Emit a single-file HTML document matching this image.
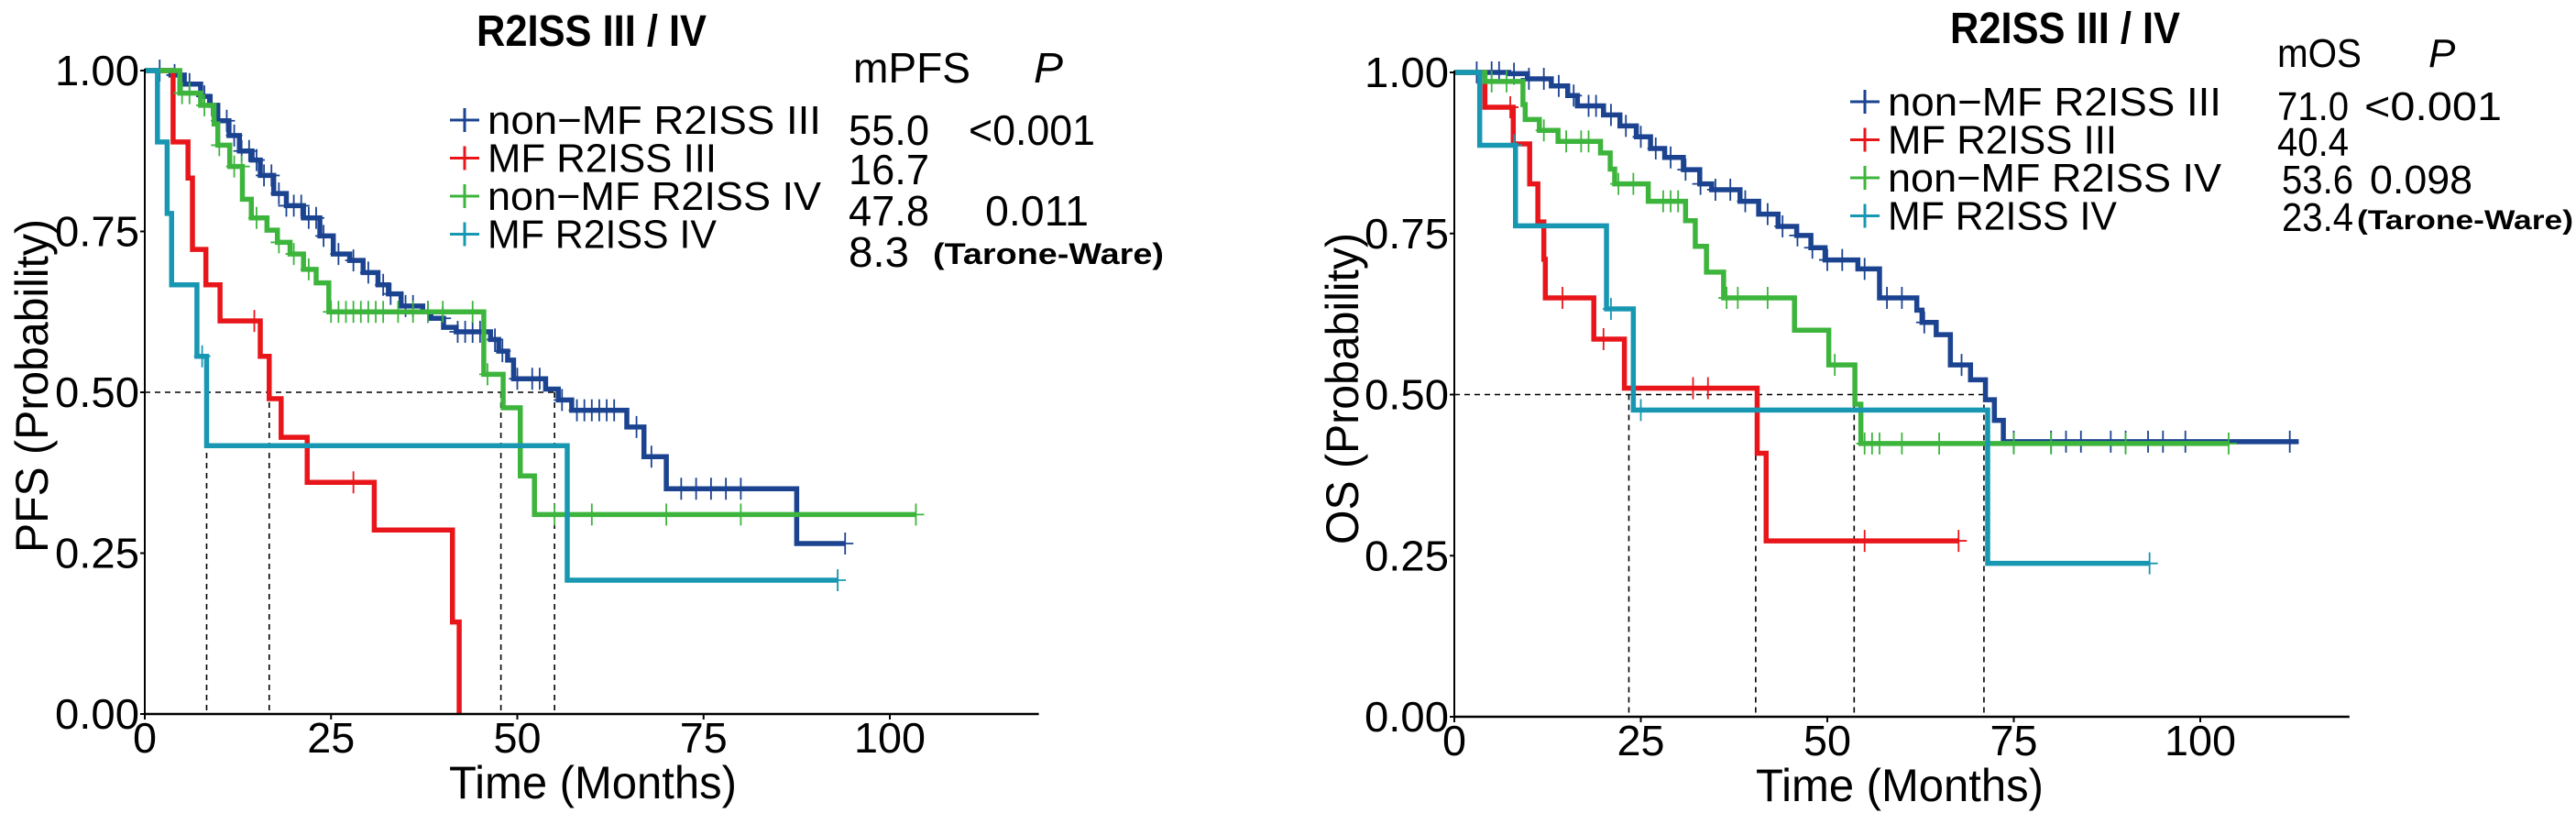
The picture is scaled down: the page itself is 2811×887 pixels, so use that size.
<!DOCTYPE html>
<html><head><meta charset="utf-8"><style>
html,body{margin:0;padding:0;background:#fff;}
svg{display:block;font-family:"Liberation Sans",Arial,sans-serif;}
</style></head><body>
<svg id="fig" width="2811" height="887" viewBox="0 0 2811 887"></svg>
<script>
// ---------- data ----------
const xTicks = [0,25,50,75,100];
const yTicks = [0,0.25,0.5,0.75,1];
const yTickLabels = ["0.00","0.25","0.50","0.75","1.00"];
const seriesNames = ["non\u2212MF R2ISS III","MF R2ISS III","non\u2212MF R2ISS IV","MF R2ISS IV"];
const seriesKeys = ["non-mf-r2iss-iii","mf-r2iss-iii","non-mf-r2iss-iv","mf-r2iss-iv"];
const colors = ["#1b4390","#e8161b","#3db53c","#1897b2"];

// PFS
const pfsBlueT = [0,3.5,5.3,7.5,8.7,9.8,11.3,12.7,14.4,15.5,17.3,19,21.3,23.5,25.3,27.5,29.3,31.3,32.7,34.4,37.3,38.4,40.1,41.8,46.4,47.5,48.7,49.5,53.8,55.5,57.3,64.7,67,70,87.5];
const pfsBlueS = [1,0.993,0.979,0.96,0.946,0.922,0.899,0.875,0.861,0.837,0.809,0.79,0.771,0.743,0.715,0.705,0.686,0.667,0.653,0.634,0.625,0.615,0.601,0.594,0.582,0.564,0.55,0.521,0.505,0.488,0.472,0.446,0.40,0.35,0.265];
const pfsBlueEnd = 94;
const pfsBlueC = [2,4,6,8,9,10,11,12,13,14,15,16,17,18,19,20,21,22,23,24,26,28,30,32,33,35,36,38,40,42,43,44,45,47,48,50,52,53,56,58,59,60,61,62,63,66,68,72,74,76,78,80,94];
const pfsRedT = [0,3.8,5.8,6.4,8.2,10.1,15.5,16.7,18.3,21.8,30.8,41.3,42.2];
const pfsRedS = [1,0.889,0.833,0.722,0.667,0.611,0.556,0.49,0.43,0.36,0.286,0.143,0];
const pfsRedEnd = 42.2;
const pfsRedC = [14.7,28];
const pfsGreenT = [0,4.7,7.5,9.3,9.8,11.4,13.1,14.3,16.4,17.8,19.5,21.3,23,24.7,45.5,48.1,50.4,52.3];
const pfsGreenS = [1,0.965,0.946,0.917,0.884,0.851,0.80,0.771,0.752,0.733,0.715,0.691,0.67,0.625,0.528,0.476,0.37,0.31];
const pfsGreenEnd = 103.5;
const pfsGreenC = [5,6,8,10,12,13,15,18,20,22,25,26,27,28,29,30,31,32,34,36,38,40,44,46,55,60,70,80,103.5];
const pfsTealT = [0,1.7,3.0,3.6,7.0,8.3,56.7];
const pfsTealS = [1,0.889,0.778,0.667,0.556,0.417,0.208];
const pfsTealEnd = 93;
const pfsTealC = [7.7,93];
const pfsMedians = [55.0,16.7,47.8,8.3];

// OS
const osBlueT = [0,7.3,9.8,13,15.2,16.5,20,22.2,24.4,26.3,28.2,30.7,32.9,34.5,38.3,40.8,43.4,45.9,47.8,49.7,54.1,57,62,62.7,64.6,66.5,69.2,71.2,72.4,73.6];
const osBlueS = [1,0.998,0.99,0.979,0.964,0.948,0.934,0.917,0.9,0.882,0.868,0.849,0.827,0.818,0.8,0.78,0.761,0.747,0.728,0.709,0.695,0.65,0.631,0.612,0.593,0.546,0.523,0.492,0.46,0.427];
const osBlueEnd = 113.2;
const osBlueC = [3,5,6,8,10,12,14,16,18,19,21,23,25,27,29,31,33,35,37,39,42,44,46,48,50,52,55,58,60,63,68,75,80,82,84,88,90,93,95,98,112];
const osRedT = [0,4.1,7.9,10.1,11.2,12,12.2,18.7,22.8,40.6,41.8];
const osRedS = [1,0.946,0.889,0.827,0.768,0.71,0.65,0.586,0.51,0.409,0.273];
const osRedEnd = 67.6;
const osRedC = [7.5,14.5,20,32,34,55,67.6];
const osGreenT = [0,4.1,9.2,9.5,11.4,13.9,19.6,20.9,21.5,26,31,32.3,33.8,36.1,45.6,50.2,53.7,54.5];
const osGreenS = [1,0.986,0.95,0.927,0.91,0.893,0.875,0.85,0.827,0.80,0.77,0.73,0.69,0.65,0.60,0.546,0.485,0.424];
const osGreenEnd = 103.8;
const osGreenC = [5,7,12,15,17,18,22,24,28,29,30,36.5,38,42,51,55,56,57,60,65,75,80,90,103.8];
const osTealT = [0,3.4,8.2,20.4,24,71.5];
const osTealS = [1,0.887,0.762,0.633,0.476,0.238];
const osTealEnd = 93.2;
const osTealC = [8,21,25,93.2];
const osMedians = [71.0,40.4,53.6,23.4];

// ---------- drawing ----------
const NS = "http://www.w3.org/2000/svg";
const svg = document.getElementById("fig");
function mk(tag, parent){ const e=document.createElementNS(NS,tag); parent.appendChild(e); return e; }
function setA(e, o){ for(const k in o) e.setAttribute(k,o[k]); }
function stepVal(T,S,t){ let v=S[0]; for(let i=0;i<T.length;i++){ if(T[i]<=t) v=S[i]; } return v; }

function drawPanel(cfg){
  const g = mk("g", svg);
  
  
  const X = t => cfg.x0 + t*cfg.ppm;
  const Y = p => cfg.y0 - p*(cfg.y0-cfg.y1);

  const mmax = Math.max(...cfg.medians);
  const hl = mk("line", g);
  setA(hl,{x1:X(0),x2:X(mmax),y1:Y(0.5),y2:Y(0.5),stroke:"#000","stroke-width":1.6,"stroke-dasharray":"6,5"});
  
  
  cfg.medians.forEach(m=>{
    const vl = mk("line", g);
    setA(vl,{x1:X(m),x2:X(m),y1:Y(0.5),y2:Y(0),stroke:"#000","stroke-width":1.6,"stroke-dasharray":"6,5"});
    
    
  });

  cfg.series.forEach((s,i)=>{
    let d = "M"+X(s.T[0])+","+Y(s.S[0]);
    for(let k=1;k<s.T.length;k++){ d += " H"+X(s.T[k])+" V"+Y(s.S[k]); }
    d += " H"+X(s.end);
    const p = mk("path", g);
    setA(p,{d:d,fill:"none",stroke:colors[i],"stroke-width":5.5,"stroke-linejoin":"miter"});
    
    
    s.C.forEach(c=>{
      const v = stepVal(s.T,s.S,c);
      const cm = mk("path", g);
      setA(cm,{d:"M"+X(c)+","+(Y(v)-12)+" V"+(Y(v)+12)+" M"+(X(c)-9)+","+Y(v)+" H"+(X(c)+9),stroke:colors[i],"stroke-width":1.8,fill:"none"});
      
      
    });
  });

  const ya = mk("line", g);
  setA(ya,{x1:X(0),x2:X(0),y1:Y(1)-2,y2:Y(0),stroke:"#000","stroke-width":2});
  
  
  const xa = mk("line", g);
  setA(xa,{x1:X(0),x2:X(120),y1:Y(0),y2:Y(0),stroke:"#000","stroke-width":2.5});
  
  
  yTicks.forEach((v,i)=>{
    const tk = mk("line", g);
    setA(tk,{x1:X(0)-5,x2:X(0),y1:Y(v),y2:Y(v),stroke:"#000","stroke-width":2});
    
    
    const tl = mk("text", g);
    setA(tl,{x:X(0)-6,y:Y(v)+16,"text-anchor":"end","font-size":46,textLength:92,lengthAdjust:"spacingAndGlyphs"});
    tl.textContent = yTickLabels[i];
    
    
  });
  xTicks.forEach(v=>{
    const tk = mk("line", g);
    setA(tk,{x1:X(v),x2:X(v),y1:Y(0),y2:Y(0)+6,stroke:"#000","stroke-width":2});
    
    
    const tl = mk("text", g);
    const w = String(v).length*26;
    setA(tl,{x:X(v),y:Y(0)+42,"text-anchor":"middle","font-size":46,textLength:w,lengthAdjust:"spacingAndGlyphs"});
    tl.textContent = String(v);
    
    
  });
  const xt = mk("text", g);
  setA(xt,{x:cfg.xTitleX,y:cfg.y0+92,"text-anchor":"middle","font-size":50,textLength:314,lengthAdjust:"spacingAndGlyphs"});
  xt.textContent = "Time (Months)";
  
  
  const yt = mk("text", g);
  setA(yt,{x:0,y:0,"text-anchor":"middle","font-size":50,textLength:cfg.yTitleLen,lengthAdjust:"spacingAndGlyphs",transform:"translate("+cfg.yTitleX+","+cfg.yTitleY+") rotate(-90)"});
  yt.textContent = cfg.yTitle;
  
  

  const tt = mk("text", g);
  setA(tt,{x:cfg.titleX,y:cfg.titleY,"font-size":48,"font-weight":"bold",textLength:251,lengthAdjust:"spacingAndGlyphs"});
  tt.textContent = "R2ISS III / IV";
  
  

  seriesNames.forEach((n,i)=>{
    const cy = cfg.legY + i*41.5;
    const mkp = mk("path", g);
    setA(mkp,{d:"M"+(cfg.legX-16)+","+cy+" H"+(cfg.legX+16)+" M"+cfg.legX+","+(cy-13)+" V"+(cy+13),stroke:colors[i],"stroke-width":3,fill:"none"});
    
    
    const lt = mk("text", g);
    const lens=[364,250,364,250];
    setA(lt,{x:cfg.legX+25,y:cy+15,"font-size":44,textLength:lens[i],lengthAdjust:"spacingAndGlyphs"});
    lt.textContent = n;
    
    
  });

  cfg.stats.forEach(st=>{
    const t = mk("text", g);
    const a = {x:st.x,y:st.y,"font-size":st.fs||46};
    if(st.w){ a.textLength=st.w; a.lengthAdjust="spacingAndGlyphs"; }
    if(st.b) a["font-weight"]="bold";
    if(st.i) a["font-style"]="italic";
    setA(t,a);
    t.textContent = st.t;
    
    
  });
}

drawPanel({
  name:"pfs-panel", x0:158, ppm:8.13, y0:779, y1:77,
  medians:pfsMedians, yTitle:"PFS (Probability)", yTitleX:52, yTitleY:421, yTitleLen:364, xTitleX:647,
  titleX:520, titleY:50, legX:507, legY:131,
  series:[
    {T:pfsBlueT,S:pfsBlueS,end:pfsBlueEnd,C:pfsBlueC},
    {T:pfsRedT,S:pfsRedS,end:pfsRedEnd,C:pfsRedC},
    {T:pfsGreenT,S:pfsGreenS,end:pfsGreenEnd,C:pfsGreenC},
    {T:pfsTealT,S:pfsTealS,end:pfsTealEnd,C:pfsTealC}],
  stats:[
    {t:"mPFS",x:931,y:90,w:128,n:"median-pfs-header"},
    {t:"P",x:1128,y:90,w:32,i:1,n:"p-value-header"},
    {t:"55.0",x:926,y:158,w:88,n:"median-non-mf-iii"},
    {t:"<0.001",x:1057,y:158,w:138,n:"p-value-iii"},
    {t:"16.7",x:926,y:201,w:88,n:"median-mf-iii"},
    {t:"47.8",x:926,y:246,w:88,n:"median-non-mf-iv"},
    {t:"0.011",x:1075,y:246,w:113,n:"p-value-iv"},
    {t:"8.3",x:926,y:291,w:66,n:"median-mf-iv"},
    {t:"(Tarone-Ware)",x:1018,y:288,w:252,fs:32,b:1,n:"test-method-label"}]
});

drawPanel({
  name:"os-panel", x0:1587, ppm:8.14, y0:782, y1:79,
  medians:osMedians, yTitle:"OS (Probability)", yTitleX:1482, yTitleY:424, yTitleLen:340, xTitleX:2073,
  titleX:2128, titleY:47, legX:2035, legY:111,
  series:[
    {T:osBlueT,S:osBlueS,end:osBlueEnd,C:osBlueC},
    {T:osRedT,S:osRedS,end:osRedEnd,C:osRedC},
    {T:osGreenT,S:osGreenS,end:osGreenEnd,C:osGreenC},
    {T:osTealT,S:osTealS,end:osTealEnd,C:osTealC}],
  stats:[
    {t:"mOS",x:2485,y:73,w:92,fs:44,n:"median-os-header"},
    {t:"P",x:2650,y:73,fs:44,i:1,n:"p-value-header"},
    {t:"71.0",x:2485,y:131,w:78,fs:44,n:"median-non-mf-iii"},
    {t:"<0.001",x:2580,y:131,w:150,fs:44,n:"p-value-iii"},
    {t:"40.4",x:2485,y:170,w:78,fs:44,n:"median-mf-iii"},
    {t:"53.6",x:2490,y:211,w:78,fs:44,n:"median-non-mf-iv"},
    {t:"0.098",x:2586,y:211,w:112,fs:44,n:"p-value-iv"},
    {t:"23.4",x:2490,y:252,w:78,fs:44,n:"median-mf-iv"},
    {t:"(Tarone-Ware)",x:2572,y:250,w:236,fs:30,b:1,n:"test-method-label"}]
});
</script>
</body></html>
